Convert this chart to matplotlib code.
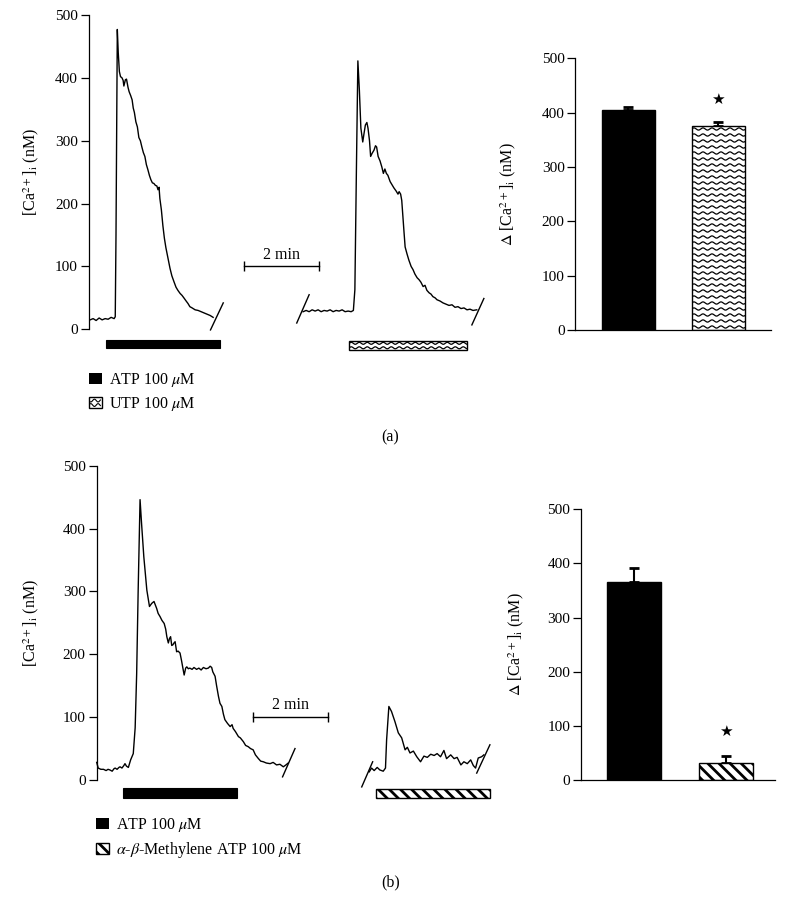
import numpy as np
import matplotlib
matplotlib.use("Agg")
import matplotlib.pyplot as plt
from matplotlib.patches import Patch, Rectangle
from matplotlib.lines import Line2D
from matplotlib.legend_handler import HandlerBase

plt.rcParams["font.family"] = ["Liberation Serif", "DejaVu Sans"]
plt.rcParams["mathtext.fontset"] = "stix"
plt.rcParams["hatch.linewidth"] = 2.0

# ---------------- panel (a): traces (time in min, [Ca2+]i in nM) ----------------
t_a1 = [0.03, 0.11, 0.19, 0.27, 0.35, 0.43, 0.51, 0.59, 0.67, 0.70, 0.72, 0.755,
        0.78, 0.81, 0.84, 0.88, 0.91, 0.93, 0.97, 1.00, 1.04, 1.07, 1.11, 1.15,
        1.18, 1.21, 1.25, 1.29, 1.33, 1.37, 1.41, 1.45, 1.49, 1.53, 1.57, 1.61,
        1.65, 1.69, 1.73, 1.77, 1.81, 1.84, 1.87, 1.875, 1.89, 1.93, 1.97, 2.01,
        2.05, 2.11, 2.16, 2.21, 2.27, 2.32, 2.37, 2.43, 2.48, 2.53, 2.59, 2.64,
        2.69, 2.75, 2.83, 2.91, 2.99, 3.07, 3.15, 3.23, 3.31]
v_a1 = [15, 17, 14, 18, 15, 17, 16, 19, 17, 20, 150, 477,
        440, 410, 402, 400, 396, 387, 397, 398, 385, 378, 372, 365,
        352, 345, 330, 322, 305, 300, 290, 281, 275, 262, 254, 245,
        238, 233, 232, 229, 228, 222, 226, 220, 208, 190, 165, 145,
        130, 112, 97, 85, 75, 67, 62, 57, 54, 50, 45, 41,
        36, 34, 31, 30, 28, 26, 24, 22, 19]

t_a2 = [5.71, 5.79, 5.87, 5.95, 6.03, 6.11, 6.19, 6.27, 6.35, 6.43, 6.51, 6.59,
        6.67, 6.75, 6.83, 6.91, 6.99, 7.05, 7.09, 7.13, 7.17, 7.21, 7.25, 7.30,
        7.33, 7.37, 7.41, 7.44, 7.48, 7.51, 7.55, 7.60, 7.64, 7.67, 7.71, 7.76,
        7.81, 7.85, 7.89, 7.93, 7.97, 8.03, 8.08, 8.13, 8.19, 8.24, 8.27, 8.31,
        8.34, 8.37, 8.40, 8.43, 8.48, 8.53, 8.59, 8.64, 8.69, 8.75, 8.80, 8.85,
        8.91, 8.96, 9.01, 9.07, 9.12, 9.17, 9.23, 9.28, 9.36, 9.44, 9.52, 9.60,
        9.68, 9.76, 9.84, 9.92, 10.00, 10.08, 10.16, 10.24, 10.34]
v_a2 = [28, 30, 28, 31, 29, 31, 28, 30, 29, 31, 28, 30,
        29, 31, 28, 29, 28, 30, 63, 250, 427, 380, 320, 298,
        310, 325, 329, 320, 300, 275, 280, 285, 292, 290, 275, 268,
        258, 248, 255, 248, 245, 235, 230, 225, 220, 215, 219, 215,
        205, 180, 155, 131, 120, 110, 100, 95, 88, 82, 79, 75,
        68, 70, 62, 58, 56, 52, 50, 47, 45, 42, 40, 38,
        39, 35, 36, 33, 34, 31, 32, 30, 31]

breaks_a = [([3.24, 3.58], [-1, 42]), ([5.54, 5.87], [10, 55]), ([10.21, 10.53], [7, 49])]
scale_a = ([4.13, 6.13], [100, 100])
drug_a = [(0.45, 3.49, -30, -17, "solid"), (6.94, 10.09, -33, -18, "wave")]

# ---------------- panel (a): bar summary ----------------
bar_a_mean = [404, 376]
bar_a_err = [6, 7]
star_a = 425

# ---------------- panel (b): traces ----------------
t_b1 = [0.00, 0.04, 0.11, 0.18, 0.25, 0.30, 0.35, 0.41, 0.46, 0.49, 0.54, 0.59,
        0.62, 0.67, 0.72, 0.75, 0.79, 0.84, 0.90, 0.97, 1.02, 1.06, 1.10, 1.15,
        1.19, 1.25, 1.33, 1.40, 1.46, 1.52, 1.59, 1.63, 1.68, 1.73, 1.79, 1.83,
        1.86, 1.90, 1.93, 1.96, 1.99, 2.02, 2.05, 2.08, 2.12, 2.16, 2.21, 2.25,
        2.28, 2.32, 2.36, 2.39, 2.43, 2.47, 2.53, 2.58, 2.65, 2.71, 2.77, 2.83,
        2.90, 2.96, 3.01, 3.05, 3.08, 3.14, 3.18, 3.23, 3.27, 3.32, 3.36, 3.40,
        3.47, 3.54, 3.59, 3.62, 3.68, 3.76, 3.81, 3.89, 3.95, 4.02, 4.08, 4.15,
        4.21, 4.29, 4.35, 4.42, 4.50, 4.60, 4.68, 4.77, 4.86, 4.95, 5.02, 5.08]
v_b1 = [28, 19, 17, 17, 15, 17, 16, 14, 18, 19, 17, 20,
        21, 19, 23, 26, 22, 20, 32, 42, 83, 169, 302, 446,
        408, 355, 302, 276, 281, 284, 273, 265, 260, 254, 249, 240,
        228, 218, 225, 228, 214, 215, 218, 220, 204, 205, 202, 190,
        180, 167, 178, 180, 177, 178, 176, 179, 176, 178, 175, 179,
        177, 178, 181, 179, 172, 165, 150, 133, 122, 117, 105, 96,
        90, 85, 88, 82, 77, 69, 67, 61, 55, 53, 50, 48,
        40, 34, 30, 29, 27, 26, 28, 24, 25, 21, 24, 27]

t_b2 = [7.23, 7.29, 7.36, 7.44, 7.51, 7.60, 7.66, 7.69, 7.75, 7.82, 7.91, 8.00,
        8.09, 8.18, 8.24, 8.31, 8.40, 8.49, 8.59, 8.68, 8.77, 8.86, 8.95, 9.03,
        9.12, 9.21, 9.28, 9.39, 9.48, 9.56, 9.66, 9.74, 9.83, 9.92, 9.99, 10.05,
        10.12, 10.21, 10.27]
v_b2 = [13, 19, 15, 20, 16, 14, 19, 64, 117, 109, 93, 75,
        67, 48, 52, 43, 46, 37, 29, 38, 36, 41, 39, 42,
        37, 47, 34, 40, 34, 36, 24, 29, 26, 32, 23, 19,
        35, 37, 40]

breaks_b = [([4.93, 5.26], [5, 50]), ([7.03, 7.32], [-11, 29]), ([10.08, 10.43], [11, 56])]
scale_b = ([4.14, 6.14], [100, 100])
drug_b = [(0.71, 3.73, -29, -13, "solid"), (7.41, 10.43, -29, -15, "hatch")]

# ---------------- panel (b): bar summary ----------------
bar_b_mean = [366, 32]
bar_b_err = [25, 12]
star_b = 89

yticks = [0, 100, 200, 300, 400, 500]
trace_label = r"[Ca$^{2+}$]$_\mathrm{i}$ (nM)"
bar_label = r"$\Delta$ [Ca$^{2+}$]$_\mathrm{i}$ (nM)"
legend_a = ["ATP 100 $\\mu$M", "UTP 100 $\\mu$M"]
legend_b = ["ATP 100 $\\mu$M", "$\\alpha$-$\\beta$-Methylene ATP 100 $\\mu$M"]

W, H = 786, 915
fig = plt.figure(figsize=(W / 100, H / 100), dpi=100)


def px_axes(left, top, right, bottom):
    return fig.add_axes([left / W, 1 - bottom / H, (right - left) / W, (bottom - top) / H])


def wave_fill(ax, patch, step=6.0, period=9.0, amp=1.1):
    x0, y0 = patch.get_x(), patch.get_y()
    x1, y1 = x0 + patch.get_width(), y0 + patch.get_height()
    (px0, py0), (px1, py1) = ax.transData.transform([(x0, y0), (x1, y1)])
    lo, hi = min(py0, py1), max(py0, py1)
    xs = np.linspace(px0, px1, 300)
    inv = ax.transData.inverted()
    for row in np.arange(lo + step / 2, hi, step):
        ys = row + amp * np.sin(2 * np.pi * (xs - px0) / period)
        pts = inv.transform(np.column_stack([xs, ys]))
        ln, = ax.plot(pts[:, 0], pts[:, 1], color="black", lw=0.9)
        ln.set_clip_path(patch)


class HandlerWave(HandlerBase):
    def create_artists(self, legend, orig_handle, xdescent, ydescent,
                       width, height, fontsize, trans):
        rect = Rectangle((-xdescent, -ydescent), width, height, facecolor="white",
                         edgecolor="black", lw=1.0, transform=trans)
        arts = [rect]
        xs = np.linspace(-xdescent + 1, -xdescent + width - 1, 30)
        for k in range(2):
            ys = -ydescent + height * (0.3 + 0.4 * k) + 1.0 * np.sin(xs * 1.2 + k * np.pi)
            arts.append(Line2D(xs, ys, color="black", lw=0.8, transform=trans))
        return arts


def style_trace(ax, xmax):
    ax.set_xlim(0, xmax)
    ax.set_ylim(0, 500)
    for s in ["top", "right", "bottom"]:
        ax.spines[s].set_visible(False)
    ax.spines["left"].set_linewidth(0.9)
    ax.set_xticks([])
    ax.set_yticks(yticks)
    ax.tick_params(axis="y", direction="out", length=6, width=0.9, labelsize=11, pad=2)
    ax.patch.set_visible(False)


def draw_traces(ax, traces, breaks, scale, drugs):
    for t, v in traces:
        ax.plot(t, v, color="black", lw=1.0, clip_on=False)
    for bt, bv in breaks:
        ax.plot(bt, bv, color="black", lw=1.0, clip_on=False)
    ax.plot(scale[0], scale[1], color="black", lw=1.0, marker="|", markersize=7,
            markeredgewidth=1.0)
    ax.text(np.mean(scale[0]), scale[1][0] + 6, "2 min", ha="center", va="bottom", fontsize=11.5)
    for t0, t1, y0, y1, kind in drugs:
        if kind == "solid":
            r = Rectangle((t0, y0), t1 - t0, y1 - y0, facecolor="black", edgecolor="black",
                          lw=0.8, clip_on=False)
            ax.add_patch(r)
        elif kind == "hatch":
            r = Rectangle((t0, y0), t1 - t0, y1 - y0, facecolor="white", edgecolor="black",
                          lw=1.0, hatch="\\\\\\", clip_on=False)
            ax.add_patch(r)
        else:
            r = Rectangle((t0, y0), t1 - t0, y1 - y0, facecolor="white", edgecolor="black",
                          lw=1.0, clip_on=False)
            ax.add_patch(r)
            wave_fill(ax, r, step=4.5, period=8.0, amp=1.0)


def draw_bars(ax, means, errs, star, xlim, kind):
    ax.set_xlim(*xlim)
    ax.set_ylim(0, 500)
    for s in ["top", "right"]:
        ax.spines[s].set_visible(False)
    ax.spines["left"].set_linewidth(0.9)
    ax.spines["bottom"].set_linewidth(0.9)
    ax.set_xticks([])
    ax.set_yticks(yticks)
    ax.tick_params(axis="y", direction="out", length=5.5, width=0.9, labelsize=11, pad=2)
    x = [0, 1]
    ax.errorbar(x, means, yerr=[[0, 0], errs], fmt="none", ecolor="black",
                elinewidth=1.5, capsize=3.5, capthick=2, zorder=1)
    bars = ax.bar(x, means, width=0.59, color=["black", "white"], edgecolor="black",
                  lw=1.0, zorder=2)
    if kind == "hatch":
        bars[1].set_hatch("\\\\\\")
    else:
        wave_fill(ax, bars[1])
    ax.text(1, star, "\u2605", ha="center", va="center", fontsize=11, family="DejaVu Sans")


# ---- (a) traces ----
ax1 = px_axes(89, 15, 495, 329.3)
style_trace(ax1, (495 - 89) / 37.5)
draw_traces(ax1, [(t_a1, v_a1), (t_a2, v_a2)], breaks_a, scale_a, drug_a)
ax1.set_ylabel(trace_label, fontsize=11.5)
ax1.yaxis.set_label_coords(-0.118, 0.5)

# ---- (a) bars ----
ax2 = px_axes(575, 58.3, 770.7, 330)
draw_bars(ax2, bar_a_mean, bar_a_err, star_a, (-0.592, 1.582), "wave")
ax2.set_ylabel(bar_label, fontsize=11.5)
ax2.yaxis.set_label_coords(-0.29, 0.5)

# ---- (b) traces ----
ax3 = px_axes(96.7, 465.7, 495, 780)
style_trace(ax3, (495 - 96.7) / 37.7)
draw_traces(ax3, [(t_b1, v_b1), (t_b2, v_b2)], breaks_b, scale_b, drug_b)
ax3.set_ylabel(trace_label, fontsize=11.5)
ax3.yaxis.set_label_coords(-0.14, 0.5)

# ---- (b) bars ----
ax4 = px_axes(580.7, 509.3, 775, 780)
draw_bars(ax4, bar_b_mean, bar_b_err, star_b, (-0.576, 1.536), "hatch")
ax4.set_ylabel(bar_label, fontsize=11.5)
ax4.yaxis.set_label_coords(-0.282, 0.5)

# ---- legends ----
wave_handle = Patch(facecolor="white", edgecolor="black")
leg_kw = dict(loc="upper left", frameon=False, fontsize=11.5, handlelength=0.8,
              handleheight=0.7, handletextpad=0.45, labelspacing=0.4, borderpad=0,
              borderaxespad=0)
fig.legend([Patch(facecolor="black"), wave_handle], legend_a,
           bbox_to_anchor=(89 / W, 1 - 371 / H), handler_map={wave_handle: HandlerWave()},
           **leg_kw)
fig.legend([Patch(facecolor="black"),
            Patch(facecolor="white", edgecolor="black", hatch="\\\\\\")], legend_b,
           bbox_to_anchor=(96 / W, 1 - 816 / H), **leg_kw)

fig.text(390 / W, 1 - 437 / H, "(a)", ha="center", va="center", fontsize=11.5)
fig.text(391 / W, 1 - 882 / H, "(b)", ha="center", va="center", fontsize=11.5)

fig.savefig("out.png", dpi=100, facecolor="white")
plt.close(fig)
